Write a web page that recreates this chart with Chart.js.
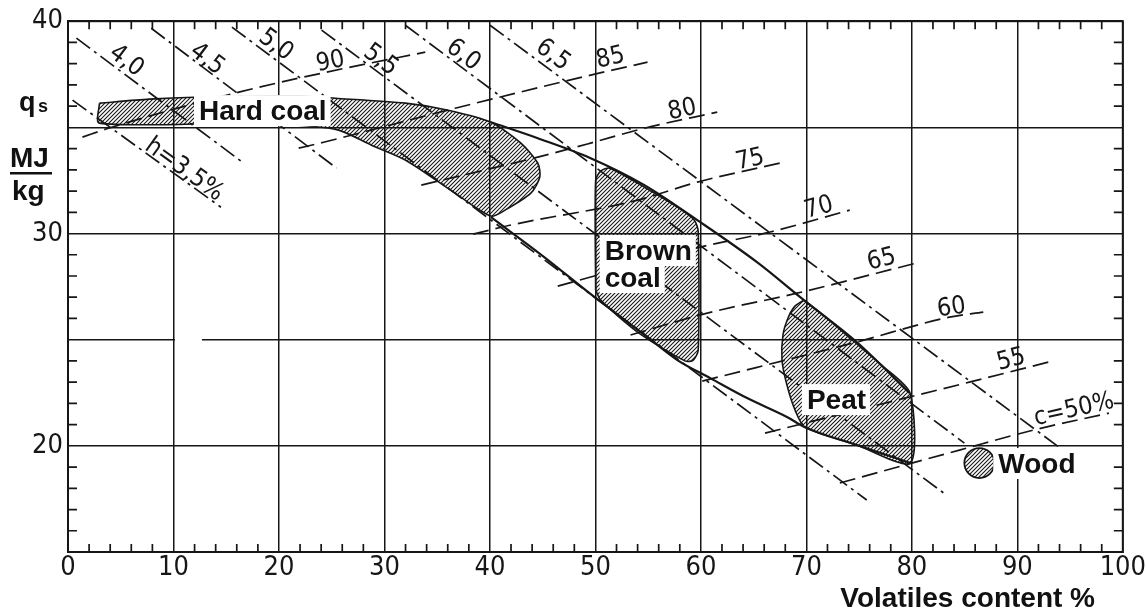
<!DOCTYPE html>
<html>
<head>
<meta charset="utf-8">
<script src="https://cdn.jsdelivr.net/npm/chart.js@4.4.1/dist/chart.umd.min.js"></script>
<style>
html, body { margin: 0; padding: 0; background: #fff; }
canvas { display: block; }
</style>
</head>
<body>
<canvas id="fuelChart" width="1146" height="612"></canvas>
<script>
// regions (volatiles %, q_s MJ/kg)
const hardCoal = [[2.98,36.14],[7.70,36.33],[11.95,36.42],[21.87,36.47],[25.37,36.37],[31.98,36.14],[36.04,35.81],[40.10,35.24],[42.94,34.26],[44.54,33.31],[44.73,32.66],[43.88,31.90],[41.43,31.10],[40.10,30.82],[36.70,31.90],[31.98,33.46],[28.77,34.16],[25.65,34.87],[21.87,35.10],[16.20,35.20],[2.98,35.20]];
const brownCoal = [[50.02,27.34],[50.02,32.51],[50.50,32.94],[51.35,33.08],[54.65,32.18],[57.77,31.24],[59.38,30.63],[59.75,30.07],[59.75,24.51],[59.28,24.04],[58.53,23.99],[53.99,25.36],[50.50,26.86]];
const peat = [[69.77,26.86],[71.94,26.02],[74.11,25.08],[77.13,23.80],[79.82,22.49],[79.85,19.19],[74.77,20.04],[69.86,20.88],[68.92,21.69],[68.16,22.86],[67.69,24.04],[67.78,25.22],[68.26,26.02],[68.92,26.58]];
const wood = [86.4, 19.19];

// envelope curves
const upperCurve = [[40.10,35.24],[44.54,34.49],[49.55,33.55],[54.65,32.28],[59.66,30.63],[65.32,28.65],[69.77,26.86],[74.77,24.89],[79.78,22.49]];
const lowerCurve = [[40.10,30.77],[45.02,28.94],[49.93,27.00],[54.94,25.12],[57.77,24.04],[60.89,23.19],[64.38,22.25],[68.16,21.36],[69.86,20.88],[74.77,20.04],[79.87,19.19]];

// hydrogen lines h (dash-dot)
const hLabels = ['h=3,5%', '4,0', '4,5', '5,0', '5,5', '6,0', '6,5'];
const hStart = [[0.43,36.28],[0.80,39.20],[7.89,39.67],[15.54,39.72],[24.04,39.58],[31.98,39.81],[40.01,39.81]];
const hEnd = [[14.50,31.24],[16.67,33.31],[25.46,33.08],[75.72,17.45],[83.28,17.68],[84.98,20.13],[94.33,19.80]];
const hLabelPos = [[11.01,33.00],[5.53,38.12],[13.18,38.20],[19.70,38.87],[29.62,38.16],[37.46,38.40],[45.96,38.40]];

// carbon lines c (dashed)
const cLabels = ['90', '85', '80', '75', '70', '65', '60', '55', 'c=50%'];
const cLines = [
    [[1.37,34.54],[3.92,34.97],[16.20,36.66],[26.31,37.79],[33.87,38.54]],
    [[21.87,34.02],[24.23,34.30],[36.70,35.90],[49.55,37.46],[54.94,38.07]],
    [[33.49,32.28],[44.54,33.60],[49.55,34.26],[54.65,34.96],[61.55,35.72]],
    [[38.40,29.97],[41.99,30.40],[53.99,31.57],[59.66,32.42],[67.88,33.36]],
    [[46.43,27.52],[49.55,27.95],[59.94,29.36],[66.56,30.07],[74.11,31.10]],
    [[53.33,25.22],[60.60,26.25],[69.11,27.19],[80.44,28.61]],
    [[60.13,23.05],[74.77,24.89],[83.56,26.06],[86.77,26.30]],
    [[66.08,20.60],[79.78,22.30],[85.45,23.00],[93.00,23.95]],
    [[73.17,18.25],[84.51,19.80],[91.50,20.74],[98.68,21.54]]
];
const cLabelPos = [[24.89,38.07],[51.44,38.26],[58.24,35.81],[64.67,33.46],[71.19,31.20],[77.13,28.75],[83.75,26.49],[89.42,24.04],[95.37,21.69]];

// region names (left, baseline)
const regionLabels = ['Hard coal', 'Brown', 'coal', 'Peat', 'Wood'];
const regionLabelPos = [[12.42,35.34],[50.88,28.75],[50.88,27.48],[70.05,21.73],[88.19,18.72]];

const ink = '#161616';
const canvas = document.getElementById('fuelChart');

function makeHatch() {
    const c = document.createElement('canvas');
    c.width = 4; c.height = 4;
    const g = c.getContext('2d');
    g.strokeStyle = ink;
    g.lineWidth = 1.1;
    g.beginPath();
    g.moveTo(0, 4); g.lineTo(4, 0);
    g.moveTo(-1, 1); g.lineTo(1, -1);
    g.moveTo(3, 5); g.lineTo(5, 3);
    g.stroke();
    return canvas.getContext('2d').createPattern(c, 'repeat');
}
const hatch = makeHatch();

const pts = arr => arr.map(p => ({ x: p[0], y: p[1] }));

function region(arr) {
    return {
        data: pts(arr.concat([arr[0]])),
        fill: 'shape',
        backgroundColor: hatch,
        borderColor: ink,
        borderWidth: 1.6,
        tension: 0.25,
        pointRadius: 0
    };
}

const datasets = [];
datasets.push(region(hardCoal), region(brownCoal), region(peat));
datasets.push({
    data: [{ x: wood[0], y: wood[1] }],
    showLine: false,
    pointRadius: 15,
    pointBackgroundColor: hatch,
    pointBorderColor: ink,
    pointBorderWidth: 1.8
});
[upperCurve, lowerCurve].forEach(c => datasets.push({
    data: pts(c),
    borderColor: ink,
    borderWidth: 2.2,
    cubicInterpolationMode: 'monotone',
    pointRadius: 0,
    fill: false
}));
hStart.forEach((s, i) => datasets.push({
    data: pts([s, hEnd[i]]),
    borderColor: ink,
    borderWidth: 1.7,
    borderDash: [17, 5, 3, 5],
    pointRadius: 0,
    fill: false
}));
cLines.forEach(c => datasets.push({
    data: pts(c),
    borderColor: ink,
    borderWidth: 1.7,
    borderDash: [16, 7],
    cubicInterpolationMode: 'monotone',
    pointRadius: 0,
    fill: false
}));

function drawRot(ctx, text, x, y, ang) {
    ctx.save();
    ctx.translate(x, y);
    ctx.rotate(ang);
    ctx.textAlign = 'center';
    ctx.textBaseline = 'middle';
    ctx.fillText(text, 0, 0);
    ctx.restore();
}

const drawingPlugin = {
    id: 'drawing',
    afterDatasetsDraw(chart) {
        const { ctx, chartArea: a, scales: { x, y } } = chart;
        const px = v => x.getPixelForValue(v);
        const py = v => y.getPixelForValue(v);
        ctx.save();

        // gap in the 25 line
        ctx.strokeStyle = '#fff';
        ctx.lineWidth = 3;
        ctx.beginPath();
        ctx.moveTo(px(10) + 1.5, py(25));
        ctx.lineTo(px(12.7), py(25));
        ctx.stroke();

        // frame and inner minor ticks
        ctx.strokeStyle = ink;
        ctx.lineWidth = 2;
        ctx.strokeRect(a.left, a.top, a.right - a.left, a.bottom - a.top);
        ctx.lineWidth = 1.7;
        ctx.beginPath();
        for (let v = 2; v < 100; v += 2) {
            if (v % 10 === 0) continue;
            ctx.moveTo(px(v), a.bottom); ctx.lineTo(px(v), a.bottom - 8);
            ctx.moveTo(px(v), a.top); ctx.lineTo(px(v), a.top + 8);
        }
        for (let v = 16; v < 40; v++) {
            if (v % 5 === 0) continue;
            ctx.moveTo(a.left, py(v)); ctx.lineTo(a.left + 9, py(v));
            ctx.moveTo(a.right, py(v)); ctx.lineTo(a.right - 9, py(v));
        }
        ctx.stroke();

        // line labels
        ctx.fillStyle = ink;
        ctx.font = "25px 'DejaVu Sans Condensed', 'DejaVu Sans', sans-serif";
        hLabels.forEach((t, i) => {
            const ang = Math.atan2(py(hEnd[i][1]) - py(hStart[i][1]), px(hEnd[i][0]) - px(hStart[i][0]));
            drawRot(ctx, t, px(hLabelPos[i][0]), py(hLabelPos[i][1]), ang);
        });
        cLabels.forEach((t, i) => {
            const c = cLines[i];
            const p = c[c.length - 2], q = c[c.length - 1];
            const ang = Math.atan2(py(q[1]) - py(p[1]), px(q[0]) - px(p[0]));
            drawRot(ctx, t, px(cLabelPos[i][0]), py(cLabelPos[i][1]), ang);
        });

        // region names on white
        ctx.font = "bold 28px 'Liberation Sans', Arial, sans-serif";
        ctx.textAlign = 'left';
        ctx.textBaseline = 'alphabetic';
        regionLabels.forEach((t, i) => {
            const lx = px(regionLabelPos[i][0]), ly = py(regionLabelPos[i][1]);
            const w = ctx.measureText(t).width;
            ctx.fillStyle = '#fff';
            ctx.fillRect(lx - 5, ly - 25, w + 9, 31);
            ctx.fillStyle = '#111';
            ctx.fillText(t, lx, ly);
        });

        // axis titles
        ctx.fillStyle = '#111';
        ctx.font = "bold 28px 'Liberation Sans', Arial, sans-serif";
        ctx.textAlign = 'right';
        ctx.fillText('Volatiles content %', 1095, 607);
        ctx.textAlign = 'left';
        ctx.font = "bold 27px 'Liberation Sans', Arial, sans-serif";
        ctx.fillText('q', 19, 111);
        ctx.font = "bold 18px 'Liberation Sans', Arial, sans-serif";
        ctx.fillText('s', 38, 112);
        ctx.font = "bold 28px 'Liberation Sans', Arial, sans-serif";
        ctx.fillText('MJ', 10, 167);
        ctx.fillText('kg', 12, 200);
        ctx.fillRect(10, 172, 42, 2.5);
        ctx.restore();
    }
};

const tickFont = { family: "'Liberation Sans Narrow', 'DejaVu Sans Condensed', 'DejaVu Sans', sans-serif", size: 27 };

new Chart(canvas, {
    type: 'line',
    data: { datasets: datasets },
    options: {
        responsive: false,
        animation: false,
        devicePixelRatio: 1,
        events: [],
        layout: { padding: { top: 21, right: 19, left: 0, bottom: 0 } },
        scales: {
            x: {
                type: 'linear',
                min: 0,
                max: 100,
                afterFit: s => { s.height = 60; },
                ticks: { stepSize: 10, color: ink, font: tickFont, padding: 0, maxRotation: 0, autoSkip: false },
                grid: { color: ink, lineWidth: 1.5, drawTicks: false },
                border: { color: ink, width: 2 }
            },
            y: {
                min: 15,
                max: 40,
                afterFit: s => { s.width = 68; },
                ticks: {
                    stepSize: 5,
                    color: ink,
                    font: tickFont,
                    padding: 5,
                    callback: v => (v % 10 === 0 ? v : '')
                },
                grid: { color: ink, lineWidth: 1.5, drawTicks: false },
                border: { color: ink, width: 2 }
            }
        },
        plugins: {
            legend: { display: false },
            tooltip: { enabled: false }
        }
    },
    plugins: [drawingPlugin]
});
</script>
</body>
</html>
